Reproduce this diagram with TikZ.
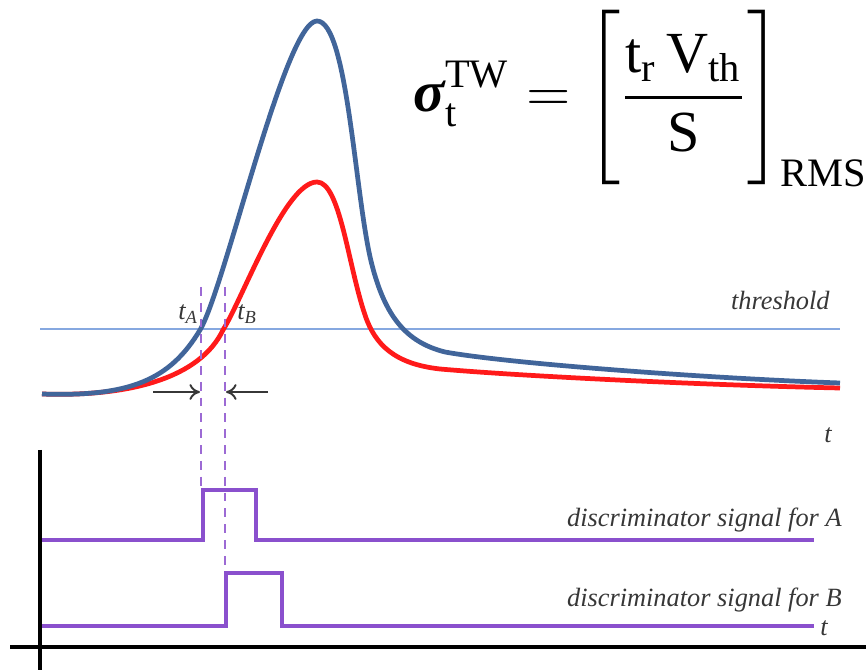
\documentclass[tikz,border=0pt]{standalone}
\usepackage{amsmath}
\usepackage{fontspec}
\setmainfont{Liberation Serif}
\usetikzlibrary{arrows.meta}
\definecolor{pulseblue}{RGB}{65,101,154}
\definecolor{pulsered}{RGB}{255,26,26}
\definecolor{threshblue}{RGB}{134,168,224}
\definecolor{discpurple}{RGB}{138,80,205}
\definecolor{labelgray}{RGB}{55,55,55}
\tikzset{
  signal/.style={line width=2.7pt, line join=round},
  discline/.style={discpurple, line width=2.1pt},
  marker/.style={discpurple!85, line width=1.6pt, dash pattern=on 5pt off 4pt},
  axisline/.style={black, line width=2.1pt},
  gap/.style={labelgray, line width=1.1pt, -{To[length=6pt,width=9pt]}},
  lbl/.style={font=\fontsize{15}{17}\selectfont\itshape, text=labelgray, inner sep=0pt}
}
\begin{document}
\begin{tikzpicture}[x=0.02cm, y=-0.02cm]
  \useasboundingbox (0,0) rectangle (866,671);
  % threshold level
  \draw[threshblue, line width=1.1pt] (40,329) -- (840,329);
  \node[lbl, anchor=base east] (thr) at (830,310) {threshold};
  % detector pulses
  \draw[signal, pulsered] (42,394) .. controls (130,397) and (200,378) .. (223,330)
    .. controls (243,298) and (285,182) .. (317,182)
    .. controls (340,182) and (348,265) .. (365,315)
    .. controls (375,345) and (395,364) .. (440,369)
    .. controls (520,376) and (700,385) .. (840,388);
  \draw[signal, pulseblue] (42,394) .. controls (130,397) and (170,380) .. (200,330)
    .. controls (225,288) and (285,21) .. (317,21)
    .. controls (348,21) and (355,200) .. (372,265)
    .. controls (385,315) and (405,342) .. (445,352)
    .. controls (505,363) and (700,378) .. (840,383);
  \node[lbl, anchor=base east] (tcurve) at (832,443) {t};
  % crossing times
  \coordinate (tAtop) at (201,287);
  \coordinate (tBtop) at (225,287);
  \coordinate (tAbot) at (201,490);
  \coordinate (tBbot) at (225,573);
  \draw[marker] (tAtop) -- (tAbot);
  \draw[marker] (tBtop) -- (tBbot);
  \node[lbl, anchor=base] (tA) at (188,320) {t\textsubscript{A}};
  \node[lbl, anchor=base] (tB) at (247,320) {t\textsubscript{B}};
  \coordinate (la) at (153,392);
  \coordinate (lb) at (200,392);
  \coordinate (ra) at (268,392);
  \coordinate (rb) at (226,392);
  \draw[gap] (la) -- (lb);
  \draw[gap] (ra) -- (rb);
  % discriminator outputs
  \draw[discline] (40,540) -- (203,540) -- (203,490) -- (256,490)
    -- (256,540) -- (814,540);
  \draw[discline] (40,626) -- (226,626) -- (226,573) -- (282,573)
    -- (282,626) -- (814,626);
  \node[lbl, anchor=base east] (sigA) at (842,527) {discriminator signal for A};
  \node[lbl, anchor=base east] (sigB) at (842,607) {discriminator signal for B};
  \node[lbl, anchor=west] (tdisc) at (820,628) {t};
  % axes
  \draw[axisline] (40,450) -- (40,670);
  \draw[axisline] (10,647) -- (866,647);
  % time-walk formula
  \node[scale=2.3, inner sep=0pt] (formula) at (641,97)
    {\Large$\displaystyle \textit{\textbf{σ}}_{\text{t}}^{\text{TW}}
      = \left[\rule[-16pt]{0pt}{42pt}\frac{\text{t}_{\text{r}}\,\text{V}_{\text{th}}}{\text{S}}\right]_{\text{RMS}}$};
\end{tikzpicture}
\end{document}
